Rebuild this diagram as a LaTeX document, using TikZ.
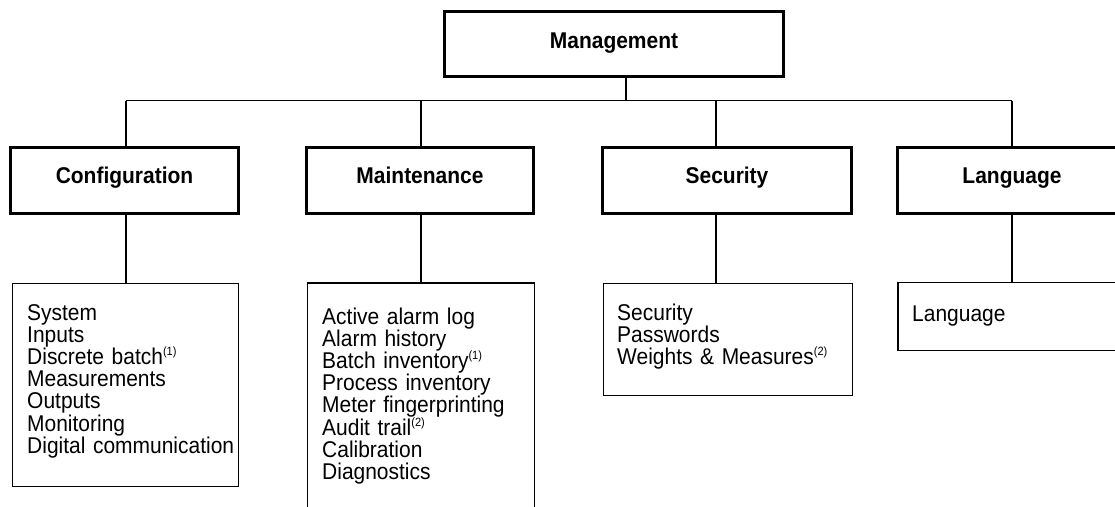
\documentclass[tikz,border=0pt]{standalone}
\usepackage{fontspec}
\setmainfont{Liberation Sans}[FakeStretch=0.92]
\newcommand{\fnref}[1]{\raisebox{8.5pt}{\fontsize{12}{12}\selectfont(#1)}}
\begin{document}
\begin{tikzpicture}[x=1pt,y=-1pt,
  hdr/.style={draw=black,line width=2.8pt,rectangle,inner sep=0pt,minimum height=66pt,
    text height=14pt,text depth=9pt,
    font=\fontsize{22.8}{22.2}\selectfont\bfseries},
  detbox/.style={draw=black,line width=1.5pt,rectangle,inner sep=0pt},
  dettxt/.style={anchor=base west,inner sep=0pt,text width=240pt,align=left,
    font=\fontsize{22.8}{22.2}\selectfont},
  conn/.style={draw=black,line width=1.3pt}]
\useasboundingbox (0,0) rectangle (1115,506);
\clip (0,0) rectangle (1115,506);
\fill[white] (0,0) rectangle (1115,506);
% top
\node[hdr,minimum width=339pt,minimum height=65pt,text depth=6pt] (mgmt) at (614,44) {Management};
% headers
\node[hdr,minimum width=228pt] (cfg) at (124.5,180.5) {Configuration};
\node[hdr,minimum width=227pt] (mnt) at (420,180.5) {Maintenance};
\node[hdr,minimum width=249pt] (sec) at (727,180.5) {Security};
\node[hdr,minimum width=229pt] (lng) at (1012,180.5) {Language};
% detail boxes
\node[detbox,minimum width=226pt,minimum height=203pt] (cfgd) at (125.5,385) {};
\node[detbox,minimum width=227pt,minimum height=237pt] (mntd) at (421,401.5) {};
\node[detbox,minimum width=249pt,minimum height=112pt] (secd) at (728,339.5) {};
\node[detbox,minimum width=232pt,minimum height=68pt] (lngd) at (1014,316.5) {};
% detail texts
\node[dettxt] (cfgt) at (27,320) {System\\Inputs\\Discrete batch\fnref{1}\\Measurements\\Outputs\\Monitoring\\Digital communication};
\node[dettxt] (mntt) at (322,324) {Active alarm log\\Alarm history\\Batch inventory\fnref{1}\\Process inventory\\Meter fingerprinting\\Audit trail\fnref{2}\\Calibration\\Diagnostics};
\node[dettxt] (sect) at (617,320) {Security\\Passwords\\Weights \& Measures\fnref{2}};
\node[dettxt] (lngt) at (912,321) {Language};
% bus coordinates
\coordinate (m0) at (626,100.5);
\coordinate (b1) at (126,100.5);
\coordinate (b2) at (421,100.5);
\coordinate (b3) at (716,100.5);
\coordinate (b4) at (1012,100.5);
\draw[conn] (mgmt.south -| m0) -- (m0);
\draw[conn] (b1) -- (b4);
\draw[conn] (b1) -- (b1 |- cfg.north);
\draw[conn] (b2) -- (b2 |- mnt.north);
\draw[conn] (b3) -- (b3 |- sec.north);
\draw[conn] (b4) -- (b4 |- lng.north);
\draw[conn] (b1 |- cfg.south) -- (b1 |- cfgd.north);
\draw[conn] (b2 |- mnt.south) -- (b2 |- mntd.north);
\draw[conn] (b3 |- sec.south) -- (b3 |- secd.north);
\draw[conn] (b4 |- lng.south) -- (b4 |- lngd.north);
\end{tikzpicture}
\end{document}
